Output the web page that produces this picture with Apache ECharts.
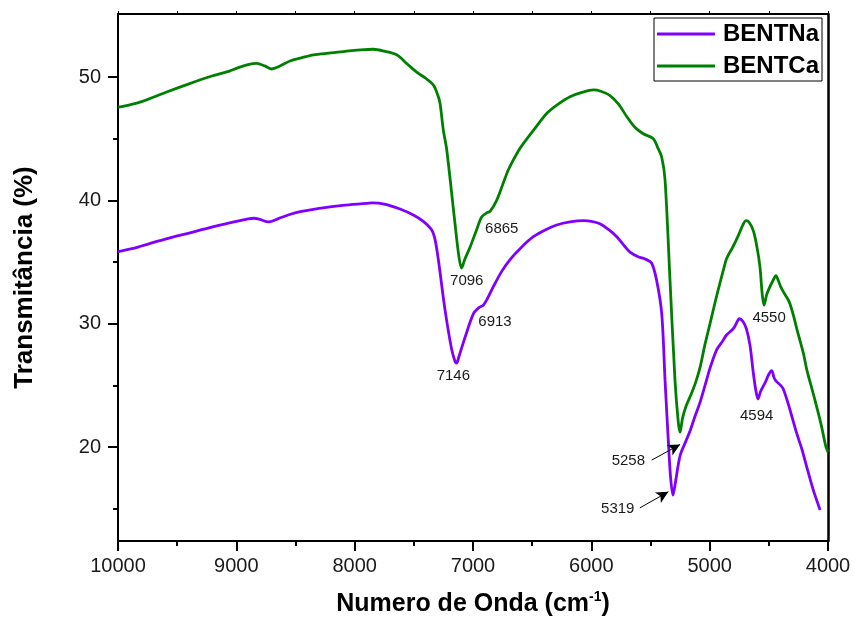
<!DOCTYPE html>
<html>
<head>
<meta charset="utf-8">
<script src="https://cdn.jsdelivr.net/npm/echarts@6/dist/echarts.min.js"></script>
<style>
  html, body { margin: 0; padding: 0; background: #fff; }
  #chart { width: 854px; height: 624px; }
</style>
</head>
<body>
<div id="chart"></div>
<script>
// BENTNa spectrum (wavenumber, transmittance)
const wnNa = [10000, 9870, 9800, 9600, 9400, 9200, 9000, 8900, 8850, 8800, 8730, 8650, 8550, 8460, 8300, 8100, 7900, 7850, 7750, 7617, 7500, 7420, 7349, 7320, 7293, 7236, 7180, 7150, 7138, 7120, 7067, 6997, 6950, 6913, 6880, 6828, 6760, 6687, 6590, 6490, 6390, 6293, 6180, 6068, 6000, 5927, 5850, 5785, 5720, 5673, 5600, 5546, 5490, 5448, 5405, 5377, 5350, 5330, 5310, 5295, 5250, 5200, 5166, 5120, 5082, 5039, 4997, 4940, 4890, 4856, 4800, 4760, 4749, 4720, 4690, 4660, 4631, 4610, 4592, 4570, 4532, 4500, 4476, 4455, 4434, 4400, 4378, 4336, 4300, 4264, 4220, 4180, 4124, 4067];
const tNa = [35.85, 36.1, 36.3, 36.85, 37.35, 37.85, 38.3, 38.5, 38.55, 38.45, 38.25, 38.5, 38.85, 39.08, 39.35, 39.6, 39.75, 39.8, 39.7, 39.3, 38.8, 38.3, 37.6, 36.8, 35.2, 31.1, 27.9, 26.9, 26.8, 27.3, 28.9, 30.8, 31.3, 31.5, 32.0, 33.0, 34.2, 35.2, 36.2, 37.05, 37.6, 38.0, 38.25, 38.35, 38.3, 38.1, 37.6, 37.05, 36.3, 35.8, 35.4, 35.25, 34.9, 33.5, 30.8, 25.4, 20.6, 17.5, 16.1, 16.8, 19.3, 20.5, 21.3, 22.6, 23.6, 25.0, 26.4, 27.9, 28.6, 29.1, 29.6, 30.3, 30.4, 30.2, 29.6, 28.3, 26.0, 24.6, 23.9, 24.5, 25.2, 25.9, 26.2, 25.6, 25.3, 25.0, 24.7, 23.5, 22.3, 21.1, 19.8, 18.4, 16.5, 14.9];

// BENTCa spectrum
const wnCa = [10000, 9900, 9800, 9600, 9400, 9200, 9053, 9000, 8900, 8828, 8760, 8700, 8640, 8546, 8450, 8349, 8200, 8067, 7950, 7842, 7750, 7645, 7560, 7476, 7400, 7335, 7300, 7279, 7251, 7222, 7160, 7120, 7096, 7070, 7025, 6970, 6927, 6880, 6856, 6800, 6744, 6700, 6617, 6575, 6480, 6377, 6280, 6180, 6080, 5983, 5920, 5842, 5770, 5701, 5630, 5561, 5476, 5440, 5405, 5377, 5335, 5293, 5265, 5250, 5230, 5200, 5160, 5120, 5080, 5040, 4997, 4950, 4913, 4880, 4856, 4800, 4760, 4720, 4693, 4665, 4630, 4600, 4575, 4555, 4540, 4520, 4500, 4470, 4440, 4420, 4400, 4378, 4340, 4321, 4290, 4264, 4208, 4180, 4124, 4060, 4017, 4000];
const tCa = [47.55, 47.75, 48.0, 48.75, 49.45, 50.1, 50.5, 50.7, 51.0, 51.1, 50.9, 50.65, 50.85, 51.3, 51.55, 51.8, 51.95, 52.1, 52.2, 52.25, 52.1, 51.8, 51.1, 50.4, 49.9, 49.35, 48.6, 47.9, 45.7, 44.1, 38.8, 35.5, 34.5, 35.2, 36.2, 37.6, 38.65, 39.0, 39.1, 40.0, 41.4, 42.5, 44.0, 44.6, 45.8, 47.05, 47.8, 48.4, 48.75, 48.95, 48.85, 48.5, 47.8, 46.8, 45.9, 45.4, 45.0, 44.3, 43.5, 41.65, 33.5, 25.4, 22.0, 21.2, 22.3, 23.3, 24.2, 25.2, 26.5, 28.3, 30.0, 31.9, 33.3, 34.5, 35.3, 36.3, 37.1, 38.0, 38.35, 38.2, 37.5, 36.2, 34.6, 32.3, 31.5, 32.3, 32.8, 33.4, 33.9, 33.5, 33.0, 32.6, 32.0, 31.6, 30.6, 29.6, 27.6, 26.3, 24.3, 21.9, 20.0, 19.6];

// peak annotations: [x, y, text]
const notesNa = [[7166, 25.8, "7146"], [6814, 30.15, "6913"], [4603, 22.5, "4594"], [5687, 18.86, "5258"], [5777, 15.02, "5319"]];
const notesCa = [[7053, 33.5, "7096"], [6757, 37.67, "6865"], [4498, 30.48, "4550"]];
// arrows: [fromX, fromY, toX, toY]
const arrowsNa = [[5490, 18.94, 5250, 20.2], [5589, 15.07, 5349, 16.37]];

const xTicks = [4000, 10000];
const yMajor = [20, 30, 40, 50];
const yMinor = [15, 25, 35, 45];
const yRange = [12.38, 55.11];

const FONT = "'Liberation Sans', Arial, sans-serif";
const pairs = (xs, ys) => xs.map((x, i) => [x, ys[i]]);

function noteMarks(list) {
  return {
    symbol: "circle",
    symbolSize: 1,
    itemStyle: { color: "rgba(0,0,0,0)" },
    label: { show: true, position: "inside", formatter: "{b}", color: "#1a1a1a", fontSize: 15, fontFamily: FONT },
    data: list.map((n) => ({ name: n[2], coord: [n[0], n[1]] })),
  };
}

const chart = echarts.init(document.getElementById("chart"), null, { renderer: "canvas" });
chart.setOption({
  animation: false,
  textStyle: { fontFamily: FONT },
  grid: { left: 118, right: 26, top: 14, bottom: 83 },
  legend: {
    left: 654,
    top: 18,
    orient: "vertical",
    icon: "rect",
    itemWidth: 58,
    itemHeight: 3,
    itemGap: 8,
    padding: [4, 3, 3, 3],
    borderColor: "#000",
    borderWidth: 1,
    textStyle: { fontSize: 24, fontWeight: "bold", color: "#000", fontFamily: FONT, padding: [0, 0, 0, 3], lineHeight: 24 },
    data: ["BENTNa", "BENTCa"],
  },
  xAxis: [
    {
      type: "value",
      position: "bottom",
      min: xTicks[0],
      max: xTicks[1],
      interval: 1000,
      inverse: true,
      axisLine: { lineStyle: { color: "#000", width: 2 } },
      axisTick: { length: 10, lineStyle: { color: "#000", width: 2 } },
      minorTick: { show: true, splitNumber: 2, length: 5, lineStyle: { color: "#000", width: 2 } },
      axisLabel: { fontSize: 20, color: "#1a1a1a", margin: 15, fontFamily: FONT, formatter: (v) => String(v) },
      splitLine: { show: false },
      name: "Numero de Onda (cm{sup|-1})",
      nameLocation: "middle",
      nameGap: 49,
      nameTextStyle: {
        fontSize: 25, fontWeight: "bold", color: "#000", fontFamily: FONT,
        rich: { sup: { fontSize: 14, fontWeight: "bold", verticalAlign: "top", padding: [0, 0, 14, 0], fontFamily: FONT } },
      },
    },
    {
      type: "value",
      position: "top",
      min: xTicks[0],
      max: xTicks[1],
      interval: 500,
      inverse: true,
      axisLine: { lineStyle: { color: "#000", width: 2 } },
      axisTick: { length: 3, lineStyle: { color: "#000", width: 1 } },
      axisLabel: { show: false },
      splitLine: { show: false },
    },
  ],
  yAxis: [
    {
      type: "value",
      position: "left",
      min: yRange[0],
      max: yRange[1],
      axisLine: { show: true, lineStyle: { color: "#000", width: 2 } },
      axisTick: { show: true, length: 10, customValues: yMajor, lineStyle: { color: "#000", width: 2 } },
      axisLabel: { customValues: yMajor, fontSize: 20, color: "#1a1a1a", margin: 17, fontFamily: FONT },
      splitLine: { show: false },
      name: "Transmitância (%)",
      nameLocation: "middle",
      nameGap: 80,
      nameRotate: 90,
      nameTextStyle: { fontSize: 26, fontWeight: "bold", color: "#000", fontFamily: FONT },
    },
    {
      type: "value",
      position: "left",
      min: yRange[0],
      max: yRange[1],
      axisLine: { show: false },
      axisTick: { show: true, length: 5, customValues: yMinor, lineStyle: { color: "#000", width: 2 } },
      axisLabel: { show: false },
      splitLine: { show: false },
    },
    {
      type: "value",
      position: "right",
      min: yRange[0],
      max: yRange[1],
      axisLine: { show: true, lineStyle: { color: "#000", width: 2.5 } },
      axisTick: { show: false },
      axisLabel: { show: false },
      splitLine: { show: false },
    },
  ],
  series: [
    {
      name: "BENTNa",
      type: "line",
      xAxisIndex: 0,
      yAxisIndex: 0,
      symbol: "none",
      smooth: 0.3,
      lineStyle: { color: "#8000ff", width: 2.8 },
      itemStyle: { color: "#8000ff" },
      data: pairs(wnNa, tNa),
      markPoint: noteMarks(notesNa),
      markLine: {
        silent: true,
        symbol: ["none", "arrow"],
        symbolSize: [9, 12],
        label: { show: false },
        lineStyle: { color: "#000", width: 1, type: "solid" },
        data: arrowsNa.map((a) => [{ coord: [a[0], a[1]] }, { coord: [a[2], a[3]] }]),
      },
      z: 3,
    },
    {
      name: "BENTCa",
      type: "line",
      xAxisIndex: 0,
      yAxisIndex: 0,
      symbol: "none",
      smooth: 0.3,
      lineStyle: { color: "#008000", width: 2.8 },
      itemStyle: { color: "#008000" },
      data: pairs(wnCa, tCa),
      markPoint: noteMarks(notesCa),
      z: 2,
    },
  ],
});
</script>
</body>
</html>
